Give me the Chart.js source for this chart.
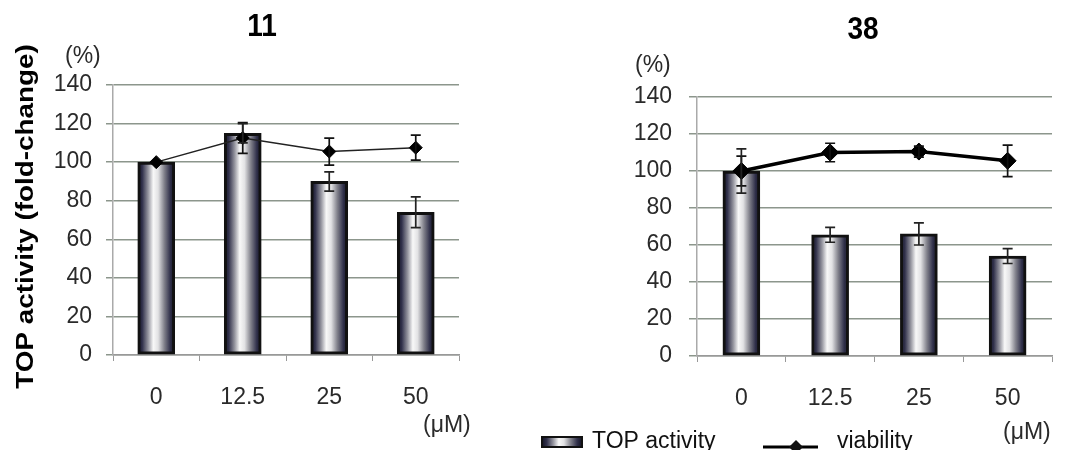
<!DOCTYPE html>
<html>
<head>
<meta charset="utf-8">
<script src="https://cdn.jsdelivr.net/npm/chart.js@4.4.1/dist/chart.umd.min.js"></script>
<style>
  html, body { margin: 0; padding: 0; background: #fff; }
  body { width: 1071px; height: 450px; position: relative; overflow: hidden; }
  .box { position: absolute; top: 0; height: 450px; }
  #b1 { left: 0; width: 530px; }
  #b2 { left: 530px; width: 541px; }
</style>
</head>
<body>
<div class="box" id="b1"><canvas id="c1"></canvas></div>
<div class="box" id="b2"><canvas id="c2"></canvas></div>
<script>
// ---- data ----
const categories = ['0', '12.5', '25', '50'];
const yTicks = [0, 20, 40, 60, 80, 100, 120, 140];

const top11 = [100, 115, 90, 74];
const top11Err = [0, 5, 5, 8];
const via11 = [100, 112.5, 105.5, 107.5];
const via11Err = [0, 8, 7, 6.5];

const top38 = [100, 65.5, 66, 54];
const top38Err = [12, 4, 6, 4];
const via38 = [100, 110, 110.5, 105.5];
const via38Err = [8, 5, 3, 8.5];

const titles = ['11', '38'];
const yUnit = '(%)';
const xUnit = '(\u03bcM)';
const yTitle = 'TOP activity (fold-change)';
const legendLabels = ['TOP activity', 'viability'];

const FONT = "'Liberation Sans', Arial, sans-serif";

function barGradient(ctx, x0, x1) {
  if (!isFinite(x0) || !isFinite(x1) || x0 === x1) return '#888';
  const g = ctx.createLinearGradient(x0, 0, x1, 0);
  g.addColorStop(0, '#131324');
  g.addColorStop(0.12, '#30304a');
  g.addColorStop(0.28, '#94949e');
  g.addColorStop(0.42, '#f8f8f8');
  g.addColorStop(0.55, '#e2e2e4');
  g.addColorStop(0.72, '#80808a');
  g.addColorStop(0.88, '#30304a');
  g.addColorStop(1, '#131324');
  return g;
}

const BAR_W = 37;

const errorBarPlugin = {
  id: 'errbars',
  afterDatasetsDraw(chart) {
    const ctx = chart.ctx;
    const ys = chart.scales.y, xs = chart.scales.x;
    chart.data.datasets.forEach((ds, di) => {
      if (!ds.errors) return;
      if (!chart.isDatasetVisible(di)) return;
      ctx.save();
      ctx.strokeStyle = ds.errColor || '#222';
      ctx.lineWidth = ds.errWidth || 1.5;
      ds.data.forEach((v, i) => {
        const e = ds.errors[i];
        if (!e) return;
        const x = xs.getPixelForValue(i);
        const yT = ys.getPixelForValue(v + e);
        const yB = ys.getPixelForValue(v - e);
        const cw = ds.capW || 5;
        ctx.beginPath();
        ctx.moveTo(x, yT); ctx.lineTo(x, yB);
        ctx.moveTo(x - cw, yT); ctx.lineTo(x + cw, yT);
        ctx.moveTo(x - cw, yB); ctx.lineTo(x + cw, yB);
        ctx.stroke();
      });
      ctx.restore();
    });
  }
};

const textPlugin = {
  id: 'texts',
  afterDraw(chart, args, opts) {
    const ctx = chart.ctx;
    ctx.save();
    ctx.save();
    ctx.fillStyle = '#000';
    ctx.font = "bold 28px " + FONT;
    ctx.textAlign = 'center';
    ctx.textBaseline = 'middle';
    ctx.translate(opts.titleX, opts.titleY);
    ctx.scale(1, 1.15);
    ctx.fillText(opts.title, 0, 0);
    ctx.restore();
    if (opts.yTitle) {
      ctx.save();
      ctx.fillStyle = '#000';
      ctx.font = "bold 24px " + FONT;
      ctx.textAlign = 'center';
      ctx.textBaseline = 'middle';
      ctx.translate(opts.yTitleX, opts.yTitleY);
      ctx.rotate(-Math.PI / 2);
      ctx.scale(1.16, 1);
      ctx.fillText(yTitle, 0, 0);
      ctx.restore();
    }
    ctx.fillStyle = '#2a2a2a';
    ctx.font = "23px " + FONT;
    ctx.textAlign = 'left';
    ctx.textBaseline = 'middle';
    ctx.fillText(yUnit, opts.pctX, opts.pctY);
    ctx.fillText(xUnit, opts.umX, opts.umY);
    if (opts.legend) {
      const L = opts.legend;
      ctx.fillStyle = barGradient(ctx, L.x, L.x + 40);
      ctx.fillRect(L.x, L.y - 5, 40, 10);
      ctx.strokeStyle = '#111';
      ctx.lineWidth = 2;
      ctx.strokeRect(L.x, L.y - 5, 40, 10);
      ctx.fillStyle = '#111';
      ctx.font = "23px " + FONT;
      ctx.textBaseline = 'middle';
      ctx.fillText(legendLabels[0], L.tx, L.ty);
      ctx.strokeStyle = '#000';
      ctx.lineWidth = 3;
      ctx.beginPath();
      ctx.moveTo(L.lx, L.y + 5); ctx.lineTo(L.lx + 55, L.y + 5);
      ctx.stroke();
      const dx = L.lx + 33, dy = L.y + 5, r = 7;
      ctx.beginPath();
      ctx.moveTo(dx, dy - r); ctx.lineTo(dx + r, dy); ctx.lineTo(dx, dy + r); ctx.lineTo(dx - r, dy); ctx.closePath();
      ctx.fill();
      ctx.fillText(legendLabels[1], L.vx, L.ty);
    }
    ctx.restore();
  }
};

function makeChart(id, cfg) {
  const ctx = document.getElementById(id);
  return new Chart(ctx, {
    data: {
      labels: categories,
      datasets: [
        {
          type: 'line',
          label: legendLabels[1],
          data: cfg.via,
          errors: cfg.viaErr,
          errColor: '#111',
          errWidth: 1.7,
          capW: 5,
          borderColor: cfg.lineColor,
          borderWidth: cfg.lineW,
          pointStyle: 'rectRot',
          pointRadius: cfg.ptR,
          pointBackgroundColor: '#000',
          pointBorderColor: '#000',
          pointBorderWidth: 1,
          tension: 0,
          order: 0
        },
        {
          type: 'bar',
          label: legendLabels[0],
          data: cfg.top,
          errors: cfg.topErr,
          errColor: '#222',
          errWidth: 1.7,
          capW: 5,
          barThickness: BAR_W,
          borderColor: '#111',
          borderWidth: 3,
          borderSkipped: false,
          backgroundColor: (c) => {
            const ch = c.chart;
            const xs = ch.scales && ch.scales.x;
            if (!xs || c.dataIndex === undefined) return '#888';
            const cx = xs.getPixelForValue(c.dataIndex);
            return barGradient(ch.ctx, cx - BAR_W / 2, cx + BAR_W / 2);
          },
          order: 1
        }
      ]
    },
    options: {
      responsive: true,
      maintainAspectRatio: false,
      animation: false,
      events: [],
      layout: { padding: { left: 0, top: cfg.padTop, right: cfg.padRight, bottom: 0 } },
      plugins: {
        legend: { display: false },
        tooltip: { enabled: false },
        title: { display: false },
        texts: cfg.texts
      },
      scales: {
        x: {
          offset: true,
          grid: {
            display: true,
            offset: true,
            drawOnChartArea: false,
            drawTicks: true,
            tickLength: 6,
            color: '#999'
          },
          border: { display: true, color: '#999', width: 1.5 },
          ticks: {
            color: '#2a2a2a',
            font: { family: FONT, size: 23 },
            padding: 23,
            maxRotation: 0
          },
          afterFit: (s) => { s.height = cfg.xH; }
        },
        y: {
          min: 0,
          max: 140,
          afterBuildTicks: (s) => { s.ticks = yTicks.map(v => ({ value: v })); },
          grid: {
            color: '#8c968c',
            lineWidth: 1.5,
            drawTicks: true,
            tickLength: cfg.yTickLen
          },
          border: { display: true, color: '#aaa', width: 1.5 },
          ticks: {
            color: '#2a2a2a',
            font: { family: FONT, size: 23 },
            padding: cfg.yPad
          },
          afterFit: (s) => { s.width = cfg.yW; }
        }
      }
    },
    plugins: [errorBarPlugin, textPlugin]
  });
}

makeChart('c1', {
  top: top11, topErr: top11Err, via: via11, viaErr: via11Err,
  lineColor: '#222', lineW: 1.5, ptR: 6.5,
  padTop: 85, padRight: 71, xH: 95, yW: 113, yTickLen: 7, yPad: 14,
  texts: { title: titles[0], titleX: 262, titleY: 27, yTitle: true, yTitleX: 26.5, yTitleY: 216.5,
           pctX: 65, pctY: 57, umX: 423, umY: 426, legend: null }
});

makeChart('c2', {
  top: top38, topErr: top38Err, via: via38, viaErr: via38Err,
  lineColor: '#000', lineW: 3.5, ptR: 8.5,
  padTop: 97, padRight: 19, xH: 94, yW: 167, yTickLen: 8, yPad: 17,
  texts: { title: titles[1], titleX: 333, titleY: 30, yTitle: false,
           pctX: 105, pctY: 66, umX: 473, umY: 433,
           legend: { x: 12, y: 442, tx: 62, ty: 442, lx: 233, vx: 307 } }
});
</script>
</body>
</html>
